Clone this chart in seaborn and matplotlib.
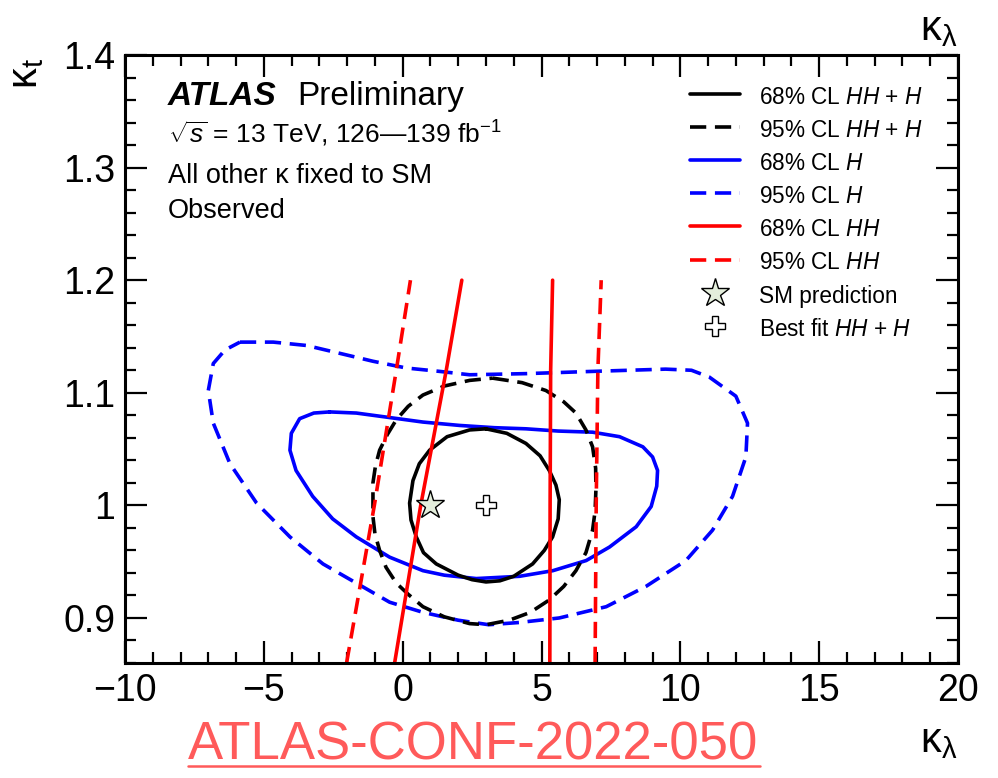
import numpy as np
import pandas as pd
import seaborn as sns
import matplotlib
matplotlib.use("Agg")
import matplotlib.pyplot as plt
from matplotlib.lines import Line2D
from matplotlib.ticker import MultipleLocator, FuncFormatter

# ---- contour data (kappa_lambda, kappa_t) ----
# 68% CL HH+H
comb68_kl = [3.00, 3.75, 4.44, 4.95, 5.28, 5.52, 5.64, 5.60, 5.40, 5.10, 4.68, 4.00, 3.50, 3.00,
             2.50, 2.00, 1.21, 0.75, 0.49, 0.30, 0.25, 0.37, 0.60, 0.97, 1.60, 2.41, 3.00]
comb68_kt = [1.068, 1.064, 1.055, 1.044, 1.031, 1.018, 1.005, 0.988, 0.972, 0.960, 0.948, 0.937,
             0.933, 0.932, 0.934, 0.938, 0.948, 0.958, 0.972, 0.987, 1.002, 1.022, 1.037, 1.049,
             1.061, 1.067, 1.068]
# 95% CL HH+H
comb95_kl = [3.24, 4.30, 5.16, 5.80, 6.24, 6.60, 6.84, 6.95, 6.96, 6.93, 6.84, 6.60, 6.24, 5.80,
             5.28, 4.60, 3.84, 3.00, 2.41, 1.50, 0.73, 0.20, -0.23, -0.60, -0.83, -1.00, -1.07,
             -1.07, -0.98, -0.83, -0.55, -0.23, 0.20, 0.73, 1.50, 2.41, 3.24]
comb95_kt = [1.113, 1.109, 1.102, 1.092, 1.082, 1.067, 1.052, 1.033, 1.014, 0.995, 0.978, 0.958,
             0.942, 0.928, 0.916, 0.905, 0.898, 0.894, 0.895, 0.901, 0.910, 0.921, 0.931, 0.945,
             0.960, 0.975, 0.990, 1.020, 1.035, 1.049, 1.063, 1.076, 1.088, 1.098, 1.106, 1.111,
             1.113]
# 68% CL H
h68_kl = [-2.63, -1.67, -0.47, 0.73, 2.05, 3.30, 4.44, 5.60, 6.84, 7.81, 8.65, 9.00, 9.18, 9.15,
          8.95, 8.41, 7.45, 6.61, 5.41, 4.21, 2.65, 1.50, 0.73, -0.47, -1.67, -2.52, -3.24, -3.84,
          -4.06, -4.01, -3.71, -3.20, -2.63]
h68_kt = [1.083, 1.082, 1.078, 1.074, 1.071, 1.069, 1.068, 1.066, 1.065, 1.061, 1.052, 1.043,
          1.031, 1.017, 0.999, 0.981, 0.963, 0.951, 0.942, 0.937, 0.935, 0.938, 0.942, 0.954,
          0.972, 0.988, 1.008, 1.031, 1.049, 1.064, 1.077, 1.082, 1.083]
# 95% CL H
h95_kl = [-5.86, -4.66, -3.46, -2.26, -1.07, 0.13, 1.33, 2.41, 4.44, 6.84, 9.47, 10.40, 11.04,
          12.00, 12.42, 12.36, 11.88, 11.16, 10.20, 8.76, 7.33, 5.64, 4.21, 3.10, 2.00, 0.73,
          -0.47, -1.67, -2.87, -4.06, -5.26, -6.22, -6.82, -7.00, -6.82, -6.40, -5.86]
h95_kt = [1.145, 1.145, 1.142, 1.135, 1.128, 1.122, 1.119, 1.116, 1.117, 1.119, 1.121, 1.120,
          1.114, 1.097, 1.073, 1.043, 1.008, 0.978, 0.951, 0.928, 0.910, 0.900, 0.896, 0.894,
          0.898, 0.905, 0.914, 0.931, 0.948, 0.972, 1.002, 1.037, 1.073, 1.102, 1.126, 1.138,
          1.145]
# HH-only bands (open curves)
hh_kt = [0.86, 1.00, 1.12, 1.20]
hh68_left_kl = [-0.29, 0.65, 1.57, 2.13]
hh68_right_kl = [5.30, 5.31, 5.33, 5.40]
hh95_left_kl = [-2.02, -1.02, -0.23, 0.28]
hh95_right_kl = [6.93, 6.97, 7.03, 7.15]

sm_point = (1.0, 1.0)
best_fit = (3.0, 1.0)

legend_labels = [r"68% CL $HH$ + $H$", r"95% CL $HH$ + $H$", r"68% CL $H$", r"95% CL $H$",
                 r"68% CL $HH$", r"95% CL $HH$", "SM prediction", r"Best fit $HH$ + $H$"]

# ---- style ----
sns.set_theme(style="ticks")
plt.rcParams["font.family"] = ["Liberation Sans", "DejaVu Sans"]
plt.rcParams["mathtext.fontset"] = "custom"
plt.rcParams["mathtext.rm"] = "Liberation Sans"
plt.rcParams["mathtext.it"] = "Liberation Sans:italic"
plt.rcParams["mathtext.bf"] = "Liberation Sans:bold"
plt.rcParams["axes.linewidth"] = 2.2
for key in ["text.color", "axes.labelcolor", "xtick.color", "ytick.color", "axes.edgecolor"]:
    plt.rcParams[key] = "black"

fig = plt.figure(figsize=(9.98, 7.78), dpi=100)
ax = fig.add_axes([125 / 998, 1 - 663 / 778, (958 - 125) / 998, (663 - 55) / 778])

LW = 2.6
DASH = (0, (4.5, 2.4))


def draw(kl, kt, color, ls):
    df = pd.DataFrame({"kl": kl, "kt": kt})
    sns.lineplot(data=df, x="kl", y="kt", sort=False, estimator=None, ax=ax,
                 color=color, linewidth=LW, linestyle=ls)


draw(h95_kl, h95_kt, "#0000ff", DASH)
draw(h68_kl, h68_kt, "#0000ff", "-")
draw(comb95_kl, comb95_kt, "black", DASH)
draw(comb68_kl, comb68_kt, "black", "-")
draw(hh95_left_kl, hh_kt, "#ff0000", DASH)
draw(hh95_right_kl, hh_kt, "#ff0000", DASH)
draw(hh68_left_kl, hh_kt, "#ff0000", "-")
draw(hh68_right_kl, hh_kt, "#ff0000", "-")

ax.plot([sm_point[0]], [sm_point[1]], marker="*", ms=21, mfc="#e4eedc", mec="black",
        mew=1.0, ls="none", zorder=5)
ax.plot([best_fit[0]], [best_fit[1]], marker="P", ms=14, mfc="white", mec="black",
        mew=1.0, ls="none", zorder=5)

ax.set_xlim(-10, 20)
ax.set_ylim(0.86, 1.4)
ax.xaxis.set_major_locator(MultipleLocator(5))
ax.xaxis.set_minor_locator(MultipleLocator(1))
ax.yaxis.set_major_locator(MultipleLocator(0.1))
ax.yaxis.set_minor_locator(MultipleLocator(0.02))
ax.yaxis.set_major_formatter(FuncFormatter(lambda v, p: f"{v:g}"))
ax.tick_params(which="both", direction="in", top=True, right=True, width=1.6)
ax.tick_params(which="major", length=16, labelsize=27, pad=7)
ax.tick_params(which="minor", length=8)

ax.set_xlabel(r"κ$_{\mathrm{λ}}$", fontsize=30, loc="right")
ax.xaxis.set_label_coords(1.0, -0.095)
ax.set_ylabel(r"κ$_{\mathrm{t}}$", fontsize=30, loc="top")
ax.yaxis.set_label_coords(-0.095, 0.995)
ax.text(1.0, 1.075, r"κ$_{\mathrm{λ}}$", fontsize=30, ha="right", va="top",
        transform=ax.transAxes)

# ---- labels ----
fig.text(168 / 998, 1 - 105 / 778, "ATLAS", fontsize=24, fontweight="bold",
         fontstyle="italic", va="baseline")
fig.text(297 / 998, 1 - 105 / 778, "Preliminary", fontsize=24, va="baseline")
fig.text(168 / 998, 1 - 143 / 778, r"$\sqrt{s}$ = 13 TeV, 126—139 fb$^{-1}$",
         fontsize=19, va="baseline")
fig.text(168 / 998, 1 - 183 / 778, "All other κ fixed to SM", fontsize=19.5, va="baseline")
fig.text(168 / 998, 1 - 218 / 778, "Observed", fontsize=19.5, va="baseline")

# ---- legend ----
handles = [
    Line2D([], [], color="black", lw=LW),
    Line2D([], [], color="black", lw=LW, ls=DASH),
    Line2D([], [], color="#0000ff", lw=LW),
    Line2D([], [], color="#0000ff", lw=LW, ls=DASH),
    Line2D([], [], color="#ff0000", lw=LW),
    Line2D([], [], color="#ff0000", lw=LW, ls=DASH),
    Line2D([], [], marker="*", ms=21, mfc="#e4eedc", mec="black", mew=1.0, ls="none"),
    Line2D([], [], marker="P", ms=14, mfc="white", mec="black", mew=1.0, ls="none"),
]
ax.legend(handles, legend_labels, loc="upper left", bbox_to_anchor=(0.678, 0.952),
          frameon=False, fontsize=16.3, handlelength=2.2, handleheight=1.3,
          handletextpad=0.85, labelspacing=0.36, borderpad=0, borderaxespad=0)

# ---- reference tag ----
fig.text(188 / 998, 1 - 760 / 778, "ATLAS-CONF-2022-050", fontsize=38,
         color="#ff5a5a", va="baseline")
fig.add_artist(Line2D([188 / 998, 760 / 998], [1 - 766 / 778, 1 - 766 / 778],
                      color="#ff5a5a", lw=1.8, transform=fig.transFigure))

fig.savefig("out.png", dpi=100)
